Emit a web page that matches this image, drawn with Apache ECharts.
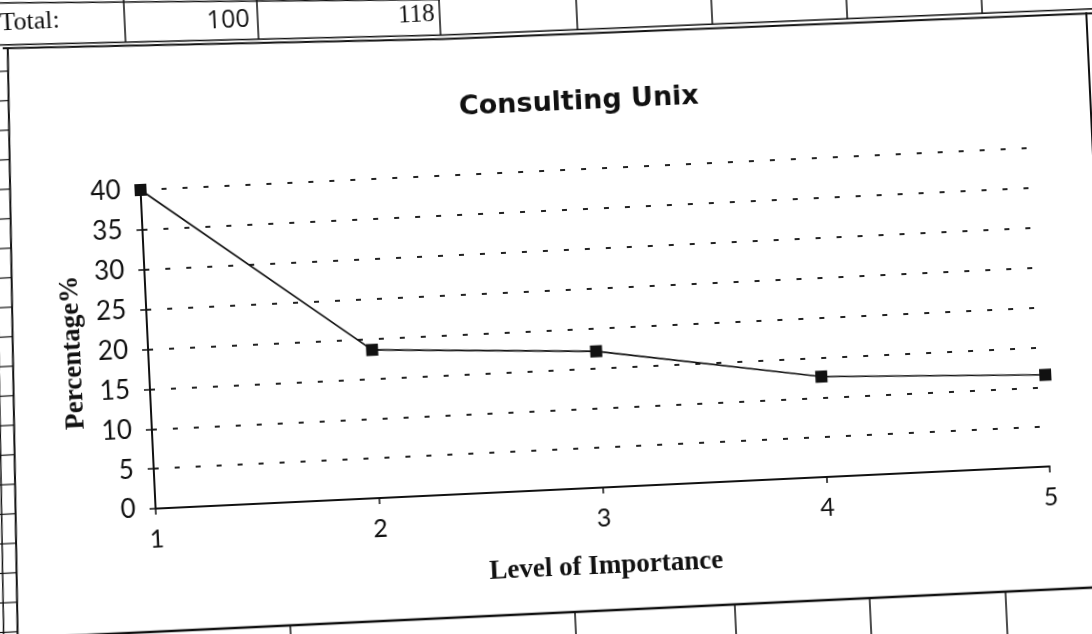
<!DOCTYPE html>
<html>
<head>
<meta charset="utf-8">
<script src="https://cdn.jsdelivr.net/npm/echarts@6/dist/echarts.min.js"></script>
<style>
  html, body { margin: 0; padding: 0; background: #fff; overflow: hidden; width: 1092px; height: 634px; }
  #chart { position: absolute; left: -50px; top: -50px; width: 1192px; height: 734px;
           transform: rotate(-2.7deg); transform-origin: 50% 50%; }
</style>
</head>
<body>
<div id="chart"></div>
<script>
// ---- data ----
const titleText = 'Consulting Unix';
const categories = ['1', '2', '3', '4', '5'];
const percentages = [40, 18.6, 17.1, 12.6, 11.5];
const yMin = 0, yMax = 40, yStep = 5;
const xAxisTitle = 'Level of Importance';
const yAxisTitle = 'Percentage%';
const tableCells = ['Total:', '100', '118'];

// ---- spreadsheet decoration (lines around the embedded chart) ----
const ink = '#111';
const deco = [];
function seg(x1, y1, x2, y2, w) {
  deco.push({ type: 'line', shape: { x1, y1, x2, y2 }, style: { stroke: ink, lineWidth: w || 1.5 }, silent: true });
}
function poly(points, w) {
  deco.push({ type: 'polyline', shape: { points }, style: { stroke: ink, lineWidth: w || 1.5, fill: null }, silent: true });
}
// table row above the chart
poly([[0, 25], [505, 45]], 1.5);
poly([[0, 68], [505, 80.5], [1170, 85]], 1.5);
poly([[66, 73], [505, 84.5], [1170, 89.5]], 1.8);
seg(189, 30, 189, 72);
seg(322, 35, 322, 76);
seg(504, 42, 504, 80);
[641, 776, 911, 1046].forEach((x, i) => seg(x, 0, x, 81.5 + i * 0.9));
// chart object frame
const frameLeft = y => 71 - (y - 73) * 20 / 661;
seg(frameLeft(73), 73, frameLeft(734), 734, 2);
seg(0, 663, 1200, 663, 2.5);
seg(1150, 88, 1150, 663, 2);
// narrow column to the left
seg(frameLeft(73) - 14, 73, frameLeft(734) - 14, 734, 1.5);
for (let y = 96; y < 734; y += 29.5) seg(frameLeft(y) - 20, y, frameLeft(y), y, 1.2);
// cells below the chart
[326, 611, 771, 906, 1042].forEach(x => seg(x, 663, x, 734));
// table texts
deco.push({ type: 'text', left: 64, top: 35, style: { text: tableCells[0], font: '26px "Liberation Serif"', fill: ink }, silent: true });
deco.push({ type: 'text', right: 1192 - 314, top: 43, style: { text: tableCells[1], font: '25px "Open Sans"', fill: ink }, silent: true });
deco.push({ type: 'text', right: 1192 - 499, top: 47, style: { text: tableCells[2], font: '25px "Liberation Serif"', fill: ink }, silent: true });

const chart = echarts.init(document.getElementById('chart'), null, { renderer: 'canvas' });
chart.setOption({
  animation: false,
  backgroundColor: '#fff',
  title: {
    text: titleText,
    left: 634,
    top: 135,
    textAlign: 'center',
    textStyle: { fontFamily: '"DejaVu Sans"', fontWeight: 'bold', fontSize: 27, color: ink }
  },
  grid: { left: 197, right: 100, top: 221, bottom: 194, containLabel: false },
  xAxis: {
    type: 'category',
    data: categories,
    boundaryGap: false,
    name: xAxisTitle,
    nameLocation: 'middle',
    nameGap: 66,
    nameTextStyle: { fontFamily: '"Liberation Serif"', fontWeight: 'bold', fontSize: 27, color: ink },
    axisLine: { lineStyle: { color: ink, width: 2 } },
    axisTick: { show: true, length: 6, lineStyle: { color: ink, width: 1.5 } },
    axisLabel: { margin: 18, fontFamily: 'Lato', fontSize: 25, color: ink },
    splitLine: { show: false }
  },
  yAxis: {
    type: 'value',
    min: yMin, max: yMax, interval: yStep,
    name: yAxisTitle,
    nameLocation: 'middle',
    nameRotate: 90,
    nameGap: 52,
    nameTextStyle: { fontFamily: '"Liberation Serif"', fontWeight: 'bold', fontSize: 27, color: ink },
    axisLine: { show: true, lineStyle: { color: ink, width: 2 } },
    axisTick: { show: true, length: 6, lineStyle: { color: ink, width: 1.5 } },
    axisLabel: { margin: 20, fontFamily: 'Lato', fontSize: 26, color: ink },
    splitLine: { show: true, lineStyle: { color: '#222', width: 2.2, type: [5, 16] } }
  },
  series: [{
    type: 'line',
    data: percentages,
    symbol: 'rect',
    symbolSize: 12,
    lineStyle: { color: ink, width: 1.6 },
    itemStyle: { color: ink },
    z: 5
  }],
  graphic: deco
});
</script>
</body>
</html>
